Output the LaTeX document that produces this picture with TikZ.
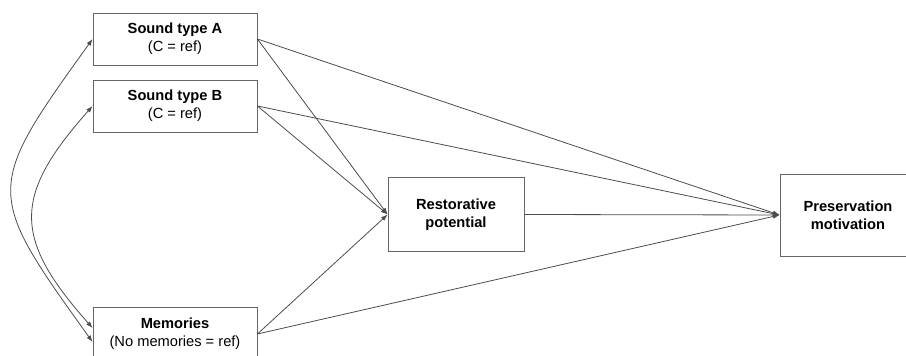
\documentclass[tikz,border=0pt]{standalone}
\usepackage{fontspec}
\setmainfont{Liberation Sans}
\usetikzlibrary{arrows.meta}

\begin{document}
\begin{tikzpicture}[x=0.75pt,y=-0.75pt,line width=0.6pt,
	link/.style={draw=black!70},
	box/.style={draw=black!60,rectangle,align=center,inner sep=0pt,
		font=\fontsize{11}{13.5}\selectfont},
	tip/.style={link,-{Latex[length=5pt,width=3.6pt]}},
	both/.style={link,{Latex[length=5pt,width=3.6pt]}-{Latex[length=5pt,width=3.6pt]}}]
	\useasboundingbox (0,0) rectangle (906,356);
	\node[box,minimum width=123pt,minimum height=39pt] (soundA) at (175,39) {\textbf{Sound type A}\\(C = ref)};
	\node[box,minimum width=123pt,minimum height=39pt] (soundB) at (175,106) {\textbf{Sound type B}\\(C = ref)};
	\node[box,minimum width=123pt,minimum height=40.5pt] (mem) at (175,334) {\textbf{Memories}\\(No memories = ref)};
	\node[box,minimum width=102pt,minimum height=56pt] (rest) at (456,214.5) {\textbf{Restorative}\\\textbf{potential}};
	\node[box,minimum width=102pt,minimum height=61.5pt] (pres) at (848,215) {\textbf{Preservation}\\\textbf{motivation}};
	% paths to the mediator
	\draw[tip] (soundA.east) -- (rest.west);
	\draw[tip] (soundB.east) -- (rest.west);
	\draw[tip] (mem.east) -- (rest.west);
	% paths to the outcome
	\draw[tip] (soundA.east) -- (pres.west);
	\draw[tip] (soundB.east) -- (pres.west);
	\draw[tip] (mem.east) -- (pres.west);
	\draw[tip] (rest.east) -- (pres.west);
	% covariances
	\draw[both] ([yshift=-6pt]mem.west) .. controls +(-108,-150) and +(-108,150) .. (soundA.west);
	\draw[both] ([yshift=4.5pt]mem.west) .. controls +(-80,-90) and +(-80,90) .. (soundB.west);
\end{tikzpicture}
\end{document}
